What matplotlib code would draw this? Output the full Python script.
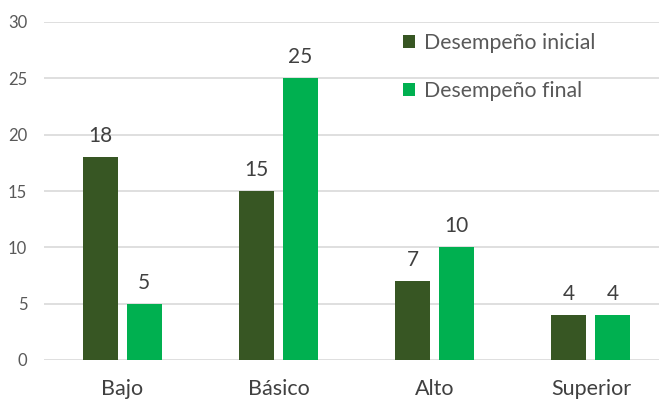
import matplotlib
matplotlib.use("Agg")
import matplotlib.pyplot as plt
import numpy as np

categories = ["Bajo", "Básico", "Alto", "Superior"]
inicial = [18, 15, 7, 4]
final = [5, 25, 10, 4]
series_names = ["Desempeño inicial", "Desempeño final"]
yticks = [0, 5, 10, 15, 20, 25, 30]

plt.rcParams['font.family'] = ['Lato', 'DejaVu Sans']

W, H = 659, 400
fig = plt.figure(figsize=(W / 100, H / 100), dpi=100)
left, right, bottom, top = 44, 669, 360, 22
ax = fig.add_axes([left / W, 1 - bottom / H, (right - left) / W, (bottom - top) / H])

x = np.arange(len(categories))
bw = 0.225
off = 0.141
c1, c2 = "#375623", "#00B050"
b1 = ax.bar(x - off, inicial, bw, color=c1, label=series_names[0], zorder=3)
b2 = ax.bar(x + off, final, bw, color=c2, label=series_names[1], zorder=3)

for bars in (b1, b2):
    for r in bars:
        ax.annotate(f"{r.get_height():g}", (r.get_x() + r.get_width() / 2, r.get_height()),
                    xytext=(0, 8), textcoords="offset points", ha="center", va="bottom",
                    fontsize=15, color="#404040")

ax.set_xlim(-0.5, len(categories) - 0.5)
ax.set_ylim(0, 30)
ax.set_yticks(yticks)
ax.yaxis.grid(True, color="#d9d9d9", linewidth=1.2, zorder=0)
ax.set_axisbelow(True)
for s in ax.spines.values():
    s.set_visible(False)
ax.tick_params(axis="y", length=0, labelsize=12, labelcolor="#595959", pad=12)
ax.tick_params(axis="x", length=0, labelsize=15.5, labelcolor="#404040", pad=14)
ax.set_xticks(x)
ax.set_xticklabels(categories)

leg = ax.legend(loc="upper left", bbox_to_anchor=(384 / W, 1 - 14 / H), bbox_transform=fig.transFigure,
                frameon=False, fontsize=15.3, handlelength=0.55, handleheight=0.55, handletextpad=0.45,
                labelspacing=1.3)
for t in leg.get_texts():
    t.set_color("#595959")

fig.savefig("out.png", dpi=100)
